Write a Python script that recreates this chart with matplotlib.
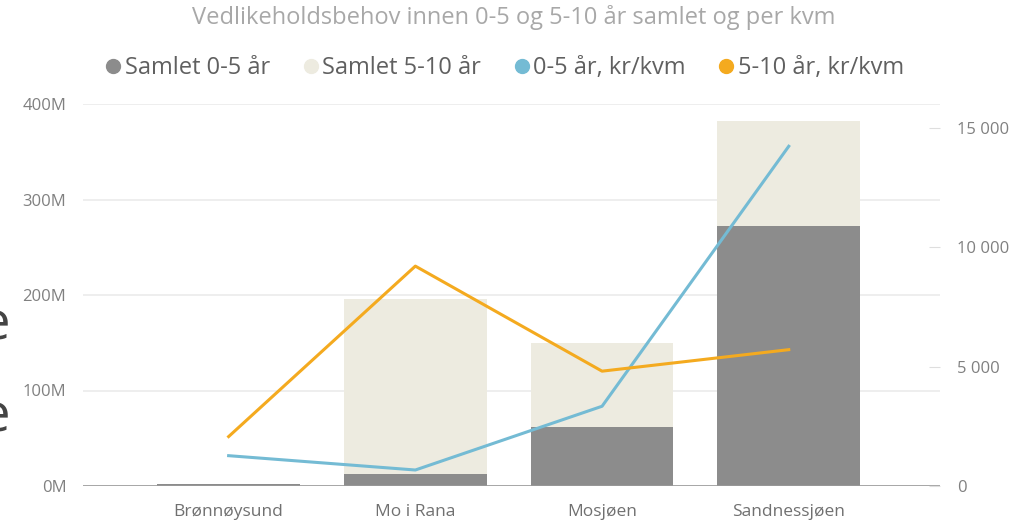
import matplotlib.pyplot as plt
import numpy as np
from matplotlib.lines import Line2D
from matplotlib.ticker import FuncFormatter

plt.rcParams['font.family'] = ['Open Sans', 'DejaVu Sans']

# data
steder = ['Brønnøysund', 'Mo i Rana', 'Mosjøen', 'Sandnessjøen']
samlet_0_5 = [2, 12.5, 61.5, 272]        # mill. kr
samlet_5_10 = [0.5, 183, 88.5, 110]      # mill. kr
kvm_0_5 = [1270, 670, 3340, 14230]       # kr/kvm
kvm_5_10 = [2070, 9210, 4810, 5710]      # kr/kvm

grey = '#8c8c8c'
beige = '#edebe0'
blue = '#74bbd4'
orange = '#f4aa1f'

fig = plt.figure(figsize=(10.24, 5.22), dpi=100)
ax = fig.add_axes([83/1024, 1 - 486/522, (940 - 83)/1024, (486 - 104)/522])
ax2 = ax.twinx()

x = np.arange(len(steder))
v05 = np.array(samlet_0_5) * 1e6
v510 = np.array(samlet_5_10) * 1e6
ax.bar(x, v05, width=0.765, color=grey, zorder=2)
ax.bar(x, v510, width=0.765, bottom=v05, color=beige, zorder=2)

ax2.plot(x, kvm_0_5, color=blue, lw=2.2)
ax2.plot(x, kvm_5_10, color=orange, lw=2.2)

ax.set_xlim(-0.78, 3.81)
ax.set_ylim(0, 400e6)
ax2.set_ylim(0, 16000)

ax.set_yticks([0, 100e6, 200e6, 300e6, 400e6])
ax.yaxis.set_major_formatter(FuncFormatter(lambda v, p: f'{v/1e6:.0f}M'))
ax.grid(axis='y', color='#ebebeb', lw=1.2)
ax.set_axisbelow(True)
ax.axhline(0, color='#9a9a9a', lw=1.2, zorder=3)

ax2.set_yticks([0, 5000, 10000, 15000])
ax2.yaxis.set_major_formatter(FuncFormatter(lambda v, p: f'{v:,.0f}'.replace(',', ' ')))

for a in (ax, ax2):
    for s in a.spines.values():
        s.set_visible(False)

ax.set_xticks(x)
ax.set_xticklabels(steder)
ax.tick_params(axis='x', length=0, pad=13, labelsize=12.5, labelcolor='#707070')
ax.tick_params(axis='y', length=0, pad=12, labelsize=12, labelcolor='#808080')
ax2.tick_params(axis='y', direction='in', length=8, color='#dedede', pad=12,
                labelsize=12, labelcolor='#808080')

fig.text(0.502, 1 - 18/522, 'Vedlikeholdsbehov innen 0-5 og 5-10 år samlet og per kvm',
         ha='center', va='center', fontsize=17, color='#a8a8a8')

handles = [Line2D([], [], ls='', marker='o', ms=10, color=c) for c in (grey, beige, blue, orange)]
labels = ['Samlet 0-5 år', 'Samlet 5-10 år', '0-5 år, kr/kvm', '5-10 år, kr/kvm']
fig.legend(handles, labels, loc='center', bbox_to_anchor=(0.491, 1 - 68/522), ncol=4,
           frameon=False, fontsize=17, labelcolor='#606060', handletextpad=0.0,
           columnspacing=1.2, handlelength=1.0)

# cut-off text at the left edge
fig.text(10/1024, 1 - 340/522, 'e', ha='right', va='baseline', fontsize=38, color='#444444')
fig.text(10/1024, 1 - 432/522, 'e', ha='right', va='baseline', fontsize=38, color='#444444')

fig.savefig('out.png', dpi=100)
